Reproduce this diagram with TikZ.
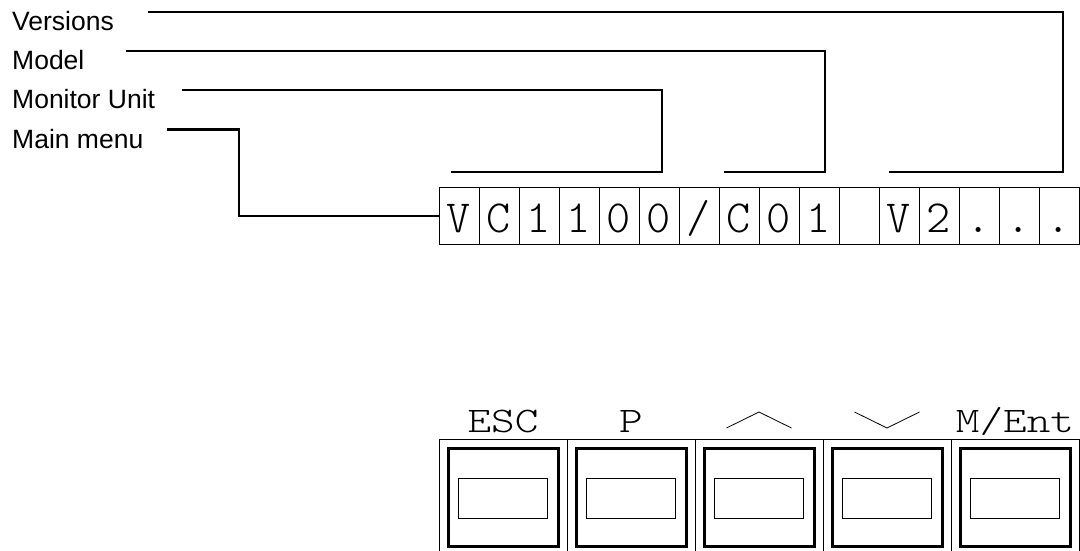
\documentclass[tikz,border=0pt]{standalone}
\usepackage{fontspec}
\setmainfont{Liberation Sans}
\newfontfamily\lcdfont{lmmonolt10-regular.otf}
\newfontfamily\keyfont[FakeStretch=1.25]{lmmonolt10-regular.otf}
\usetikzlibrary{matrix,positioning}

\tikzset{
	lcdcell/.style={draw,line width=0.8pt,minimum width=40pt,minimum height=57pt,inner sep=0pt,outer sep=0pt,
		text height=33pt,text depth=0pt,font=\lcdfont\fontsize{46}{46}\selectfont},
	lbl/.style={anchor=base west,inner sep=0pt,font=\fontsize{26.5}{30}\selectfont},
	leader/.style={line width=2.8pt},
	keyframe/.style={draw,line width=0.8pt,minimum width=128pt,minimum height=114pt,inner sep=0pt,outer sep=0pt},
	keycap/.style={draw,line width=3pt,minimum width=110pt,minimum height=98pt,inner sep=0pt},
	keywin/.style={draw,line width=0.8pt,minimum width=89pt,minimum height=40pt,inner sep=0pt},
	keylbl/.style={anchor=base,inner sep=0pt,font=\keyfont\fontsize{36}{36}\selectfont}
}

\begin{document}
\begin{tikzpicture}[x=1pt,y=-1pt]
	\clip (0,0) rectangle (1080,551);
	% labels
	\node[lbl] (ver) at (12,30.5) {Versions};
	\node[lbl] (mod) at (12,69.5) {Model};
	\node[lbl] (mon) at (12,108.5) {Monitor Unit};
	\node[lbl] (mm) at (12,148) {Main menu};
	% display
	\matrix (lcd) [matrix of nodes,nodes in empty cells,nodes={lcdcell},column sep=-0.8pt,
		inner sep=0pt,outer sep=0pt,anchor=north west] at (438.6,187)
	{
	V & C & 1 & 1 & 0 & 0 & / & C & 0 & 1 & & V & 2 & . & . & . \\
	};
	% leaders
	\coordinate (ver-turn) at (1063,172);
	\coordinate (ver-end) at (889,172);
	\coordinate (mod-turn) at (825,172);
	\coordinate (mod-end) at (724,172);
	\coordinate (mon-turn) at (662,172);
	\coordinate (mon-end) at (451,172);
	\coordinate (mm-turn) at (239,0);
	\draw[leader] ([xshift=34pt,yshift=18.5pt]ver.base east) -| (ver-turn) -- (ver-end);
	\draw[leader] ([xshift=41pt,yshift=18.5pt]mod.base east) -| (mod-turn) -- (mod-end);
	\draw[leader] ([xshift=27pt,yshift=18.5pt]mon.base east) -| (mon-turn) -- (mon-end);
	\draw[leader] ([xshift=24pt,yshift=18.5pt]mm.base east) -| (mm-turn |- lcd-1-1.west) -- (lcd-1-1.west);
	% keys
	\foreach \lbl [count=\k] in {ESC,P,{},{},M/Ent}
	{
		\node[keyframe] (k\k) at ({375+128*\k},496) {};
		\node[keycap] (kc\k) at ([yshift=-1pt]k\k.center) {};
		\node[keywin] (kw\k) at ([yshift=-2pt]k\k.center) {};
		\node[keylbl] (kl\k) at ([yshift=7pt]k\k.north) {\lbl};
	}
	\draw[line width=0.8pt] ([xshift=-32.5pt,yshift=11pt]k3.north) -- ([yshift=27pt]k3.north) -- ([xshift=32.5pt,yshift=11pt]k3.north);
	\draw[line width=0.8pt] ([xshift=-32.5pt,yshift=27pt]k4.north) -- ([yshift=11pt]k4.north) -- ([xshift=32.5pt,yshift=27pt]k4.north);
\end{tikzpicture}
\end{document}
